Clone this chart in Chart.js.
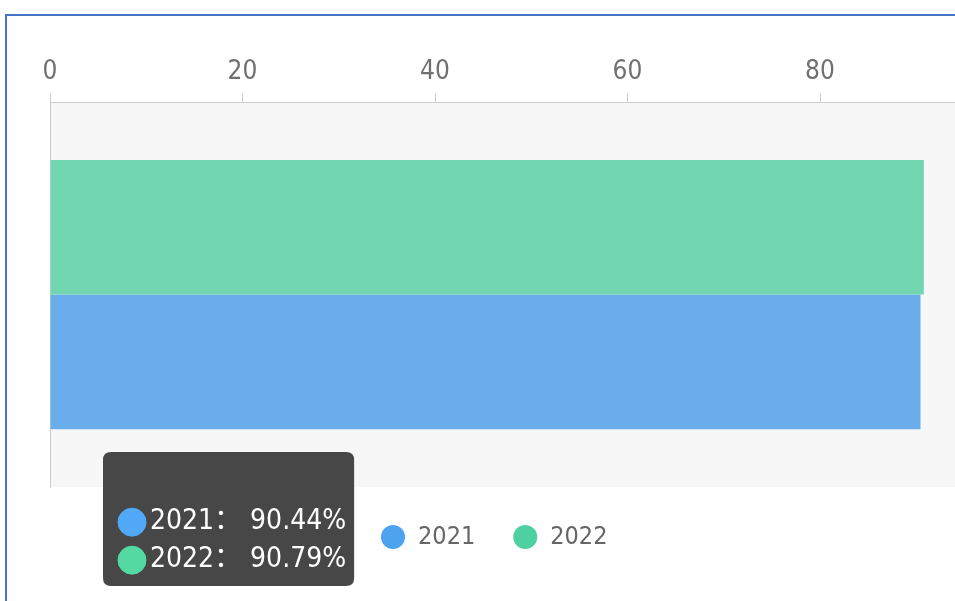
<!DOCTYPE html>
<html>
<head>
<meta charset="utf-8">
<script src="https://cdn.jsdelivr.net/npm/chart.js@4.4.0/dist/chart.umd.min.js"></script>
<style>
    html, body { margin: 0; padding: 0; background: #fff; overflow: hidden; }
    body { width: 955px; height: 601px; position: relative; }
    #frame {
        position: absolute; left: 5px; top: 14px; width: 1000px; height: 700px;
        border-top: 2px solid #4472c4; border-left: 2px solid #4472c4;
    }
    #wrap { position: absolute; left: -30px; top: 0; width: 1048px; height: 601px; }
</style>
</head>
<body>
<div id="frame"></div>
<div id="wrap"><canvas id="rateChart"></canvas></div>
<script>
// data
const categories = [''];
const years = ['2021', '2022'];
const rates2021 = [90.44];
const rates2022 = [90.79];
const xMin = 0;
const xMax = 100;
const xStep = 20;

const barColors = ['#69aeea', '#72d7b0'];
const legendColors = ['#4ea3f1', '#4fd0a0'];
const tipColors = ['#52a9f7', '#54d9a3'];

Chart.defaults.font.family = "'DejaVu Sans Condensed', 'Noto Sans CJK SC', sans-serif";

// grey background behind the plot area
const plotBackground = {
    id: 'plotBackground',
    beforeDraw(chart) {
        const { ctx, chartArea: a } = chart;
        ctx.save();
        ctx.fillStyle = '#f7f7f7';
        ctx.fillRect(a.left, a.top, a.right - a.left, a.bottom - a.top);
        ctx.restore();
    }
};

// tooltip is shown pinned below the bars
Chart.Tooltip.positioners.pinned = function() {
    return { x: 141, y: 452 };
};

const ctx = document.getElementById('rateChart').getContext('2d');
const chart = new Chart(ctx, {
    type: 'bar',
    data: {
        labels: categories,
        datasets: [
            { label: years[0], data: rates2021, backgroundColor: barColors[0], order: 1 },
            { label: years[1], data: rates2022, backgroundColor: barColors[1], order: 0 }
        ]
    },
    options: {
        indexAxis: 'y',
        responsive: true,
        maintainAspectRatio: false,
        animation: false,
        events: [],
        datasets: { bar: { categoryPercentage: 0.7, barPercentage: 1 } },
        layout: { padding: { top: 51, bottom: 41.5, left: 0, right: 0 } },
        scales: {
            x: {
                position: 'top',
                min: xMin,
                max: xMax,
                ticks: {
                    stepSize: xStep,
                    padding: 5.5,
                    color: '#707070',
                    font: { size: 26 },
                    callback: v => (v === xMax ? '' : v)
                },
                grid: { drawOnChartArea: false, tickLength: 9, color: '#ccc' },
                border: { color: '#ccc' }
            },
            y: {
                ticks: { display: false },
                grid: { display: false },
                border: { color: '#ccc' },
                afterFit: s => { s.width = 80; }
            }
        },
        plugins: {
            legend: {
                position: 'bottom',
                labels: {
                    usePointStyle: true,
                    boxWidth: 25,
                    boxHeight: 17,
                    padding: 37.5,
                    color: '#666',
                    font: { size: 25 },
                    generateLabels: chart => chart.data.datasets.map((ds, i) => ({
                        text: ds.label,
                        fillStyle: legendColors[i],
                        strokeStyle: legendColors[i],
                        fontColor: '#666',
                        lineWidth: 0,
                        pointStyle: 'circle',
                        hidden: false,
                        datasetIndex: i
                    }))
                }
            },
            tooltip: {
                position: 'pinned',
                xAlign: 'left',
                yAlign: 'top',
                caretSize: 0,
                caretPadding: 0,
                cornerRadius: 8,
                backgroundColor: '#474747',
                padding: { top: 12, bottom: 9, left: 15, right: 8 },
                titleFont: { size: 22 },
                titleMarginBottom: 15,
                bodyFont: { size: 28 },
                bodyColor: '#fff',
                bodySpacing: 4.4,
                usePointStyle: true,
                boxWidth: 28,
                boxHeight: 28,
                boxPadding: 2,
                multiKeyBackground: 'rgba(0,0,0,0)',
                callbacks: {
                    title: () => ' ',
                    label: c => c.dataset.label + '： ' + c.parsed.x.toFixed(2) + '%',
                    labelColor: c => ({
                        borderColor: tipColors[c.datasetIndex],
                        backgroundColor: tipColors[c.datasetIndex],
                        borderWidth: 0
                    }),
                    labelPointStyle: () => ({ pointStyle: 'circle', rotation: 0 })
                }
            }
        }
    },
    plugins: [plotBackground]
});

chart.tooltip.setActiveElements([
    { datasetIndex: 0, index: 0 },
    { datasetIndex: 1, index: 0 }
], { x: 0, y: 0 });
chart.update();
</script>
</body>
</html>
